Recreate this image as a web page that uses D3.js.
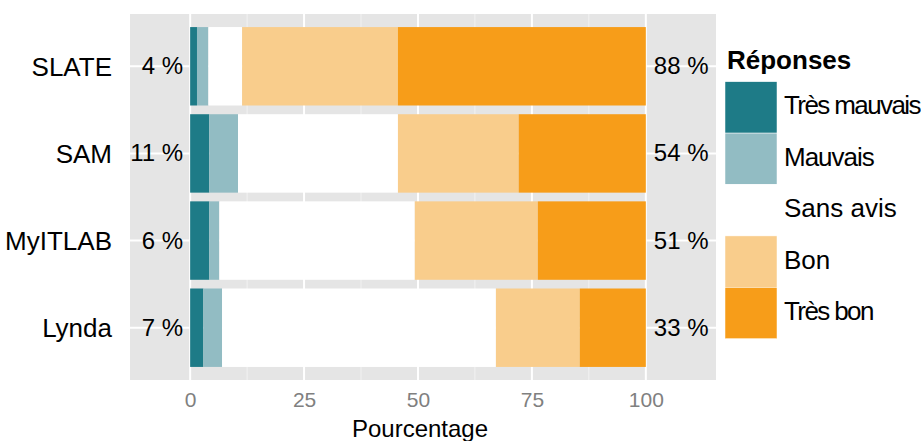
<!DOCTYPE html>
<html>
<head>
<meta charset="utf-8">
<script src="https://cdn.jsdelivr.net/npm/d3@7"></script>
<style>
  body { margin: 0; background: #fff; }
  text { font-family: "Liberation Sans", Arial, Helvetica, sans-serif; }
</style>
</head>
<body>
<script>
var width = 921,
    height = 441;

// data
var categories = ["SLATE", "SAM", "MyITLAB", "Lynda"];
var levels = ["Très mauvais", "Mauvais", "Sans avis", "Bon", "Très bon"];
var colors = ["#1e7b87", "#92bcc3", "#ffffff", "#f9cd8c", "#f79d19"];
var tresMauvais = [1.5, 4.2, 4.2, 2.9];
var mauvais = [2.5, 6.3, 2.2, 4.1];
var sansAvis = [7.4, 35.1, 42.9, 60.1];
var bon = [34.2, 26.5, 27.0, 18.4];
var tresBon = [54.4, 27.9, 23.7, 14.5];
var leftLabels = ["4 %", "11 %", "6 %", "7 %"];
var rightLabels = ["88 %", "54 %", "51 %", "33 %"];
var xTicks = [0, 25, 50, 75, 100];
var xMinor = [12.5, 37.5, 62.5, 87.5];

var series = [tresMauvais, mauvais, sansAvis, bon, tresBon];

var panel = {left: 130, right: 716, top: 14, bottom: 380};

var svg = d3.select("body")
            .append("svg")
            .attr("width", width)
            .attr("height", height);

var x = d3.scaleLinear()
          .domain([-13.2, 115.4])
          .range([panel.left, panel.right]);

var y = d3.scaleBand()
          .domain(categories)
          .range([panel.top, panel.bottom])
          .paddingInner(0.1)
          .paddingOuter(0.15);

// panel background
svg.append("rect")
   .attr("x", panel.left)
   .attr("y", panel.top)
   .attr("width", panel.right - panel.left)
   .attr("height", panel.bottom - panel.top)
   .attr("fill", "#e5e5e5");

// grid
svg.selectAll(".minor")
   .data(xMinor)
   .enter()
   .append("line")
     .attr("x1", d => x(d)).attr("x2", d => x(d))
     .attr("y1", panel.top).attr("y2", panel.bottom)
     .attr("stroke", "#f2f2f2")
     .attr("stroke-width", 1);

svg.selectAll(".major")
   .data(xTicks)
   .enter()
   .append("line")
     .attr("x1", d => x(d)).attr("x2", d => x(d))
     .attr("y1", panel.top).attr("y2", panel.bottom)
     .attr("stroke", "#fff")
     .attr("stroke-width", 2);

svg.selectAll(".hgrid")
   .data(categories)
   .enter()
   .append("line")
     .attr("x1", panel.left).attr("x2", panel.right)
     .attr("y1", d => y(d) + y.bandwidth() / 2)
     .attr("y2", d => y(d) + y.bandwidth() / 2)
     .attr("stroke", "#fff")
     .attr("stroke-width", 2);

// stacked bars
var rows = categories.map(function(c, i) {
    var row = {cat: c};
    levels.forEach(function(l, j) { row[l] = series[j][i]; });
    return row;
});
var stacked = d3.stack().keys(levels)(rows);

svg.append("g")
   .selectAll("g")
   .data(stacked)
   .enter()
   .append("g")
     .attr("fill", (d, i) => colors[i])
   .selectAll("rect")
   .data(d => d)
   .enter()
   .append("rect")
     .attr("x", d => x(d[0]))
     .attr("width", d => x(d[1]) - x(d[0]))
     .attr("y", d => y(d.data.cat))
     .attr("height", y.bandwidth());

// percentage labels
svg.selectAll(".lab-left")
   .data(categories)
   .enter()
   .append("text")
     .attr("x", x(0) - 7)
     .attr("y", d => y(d) + y.bandwidth() / 2 + 8)
     .attr("text-anchor", "end")
     .attr("font-size", 24)
     .text((d, i) => leftLabels[i]);

svg.selectAll(".lab-right")
   .data(categories)
   .enter()
   .append("text")
     .attr("x", x(100) + 8)
     .attr("y", d => y(d) + y.bandwidth() / 2 + 8)
     .attr("font-size", 24)
     .text((d, i) => rightLabels[i]);

// y axis labels
svg.selectAll(".ylab")
   .data(categories)
   .enter()
   .append("text")
     .attr("x", 112)
     .attr("y", d => y(d) + y.bandwidth() / 2 + 9.5)
     .attr("text-anchor", "end")
     .attr("font-size", 26)
     .text(d => d);

// x axis
var xAxis = svg.append("g")
   .attr("transform", "translate(0," + panel.bottom + ")")
   .call(d3.axisBottom(x).tickValues(xTicks).tickSize(0).tickPadding(12));
xAxis.select(".domain").remove();
xAxis.selectAll("text")
     .attr("font-size", 21)
     .attr("font-family", "Liberation Sans, Arial, sans-serif")
     .attr("fill", "#808080");

svg.append("text")
   .attr("x", 420)
   .attr("y", 437)
   .attr("text-anchor", "middle")
   .attr("font-size", 24)
   .text("Pourcentage");

// legend
var legend = svg.append("g").attr("transform", "translate(725,0)");
legend.append("text")
      .attr("x", 2)
      .attr("y", 69)
      .attr("font-size", 26)
      .attr("font-weight", "bold")
      .text("Réponses");

var keyH = 51.4;
legend.selectAll("rect")
      .data(levels)
      .enter()
      .append("rect")
        .attr("x", 0)
        .attr("y", (d, i) => 81.7 + i * keyH)
        .attr("width", 52)
        .attr("height", keyH)
        .attr("fill", (d, i) => colors[i])
        .attr("stroke", "#fff")
        .attr("stroke-width", 0.5);

// the original labels are set tight where "Très" appears
legend.selectAll(".leg")
      .data(levels)
      .enter()
      .append("text")
        .attr("x", 59)
        .attr("y", (d, i) => 81.7 + i * keyH + keyH / 2 + 7)
        .attr("font-size", 26)
        .attr("letter-spacing", d => d.indexOf("è") >= 0 ? -1.6 : (d == "Mauvais" ? -1 : 0))
        .text(d => d);
</script>
</body>
</html>
